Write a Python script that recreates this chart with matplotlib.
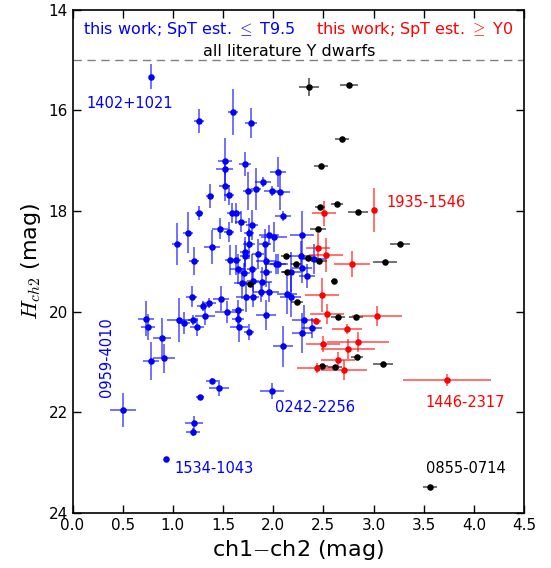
import matplotlib
matplotlib.use('Agg')
import matplotlib.pyplot as plt

plt.rcParams['mathtext.fontset'] = 'cm'

# this work, SpT <= T9.5 (blue)
blue_x = [0.783, 1.264, 1.603, 1.780, 1.523, 1.515, 1.515, 1.555, 1.366, 1.723,
          2.044, 1.896, 1.752, 1.830, 1.989, 2.071, 1.256, 1.587, 1.627, 2.099,
          1.147, 1.037, 1.468, 1.558, 1.683, 1.787, 1.762, 1.961, 2.004, 1.386,
          1.760, 1.922, 2.290, 1.211, 1.570, 1.625, 1.715, 1.720, 1.844, 1.924,
          2.026, 2.046, 2.276, 2.411, 2.283, 2.181, 2.335, 1.653, 1.710, 1.792,
          1.929, 1.687, 1.795, 1.892, 1.730, 1.796, 1.879, 1.954, 2.139, 2.173,
          1.481, 1.186, 1.358, 1.304, 1.318, 1.537, 1.650, 1.650, 1.660, 1.763,
          1.929, 1.059, 1.112, 1.204, 1.244, 0.730, 0.756, 0.889, 0.780, 0.912,
          0.506, 1.394, 1.461, 1.268, 1.214, 1.204, 0.935, 1.986, 2.096, 2.311,
          2.386, 2.288]
blue_y = [15.33, 16.21, 16.03, 16.26, 17.01, 17.17, 17.50, 17.68, 17.70, 17.07,
          17.23, 17.43, 17.60, 17.57, 17.60, 17.63, 18.05, 18.04, 18.05, 18.10,
          18.43, 18.66, 18.35, 18.42, 18.21, 18.28, 18.44, 18.47, 18.51, 18.71,
          18.65, 18.66, 18.47, 18.99, 18.98, 18.98, 18.82, 18.90, 18.85, 18.99,
          19.05, 19.05, 18.89, 18.95, 19.13, 19.21, 19.29, 19.16, 19.23, 19.15,
          19.21, 19.44, 19.39, 19.41, 19.70, 19.70, 19.61, 19.61, 19.64, 19.70,
          19.74, 19.70, 19.82, 19.89, 20.09, 20.00, 19.96, 20.14, 20.30, 20.41,
          20.06, 20.17, 20.23, 20.17, 20.31, 20.14, 20.30, 20.53, 20.98, 20.93,
          21.95, 21.38, 21.52, 21.69, 22.22, 22.39, 22.93, 21.58, 20.69, 20.17,
          20.32, 20.43]
blue_xerr = [0.02, 0.05, 0.05, 0.06, 0.07, 0.08, 0.05, 0.05, 0.04, 0.06,
             0.08, 0.08, 0.05, 0.05, 0.08, 0.10, 0.04, 0.05, 0.05, 0.08,
             0.05, 0.05, 0.08, 0.05, 0.06, 0.06, 0.05, 0.10, 0.13, 0.08,
             0.06, 0.06, 0.12, 0.05, 0.05, 0.05, 0.05, 0.05, 0.06, 0.10,
             0.12, 0.08, 0.12, 0.12, 0.10, 0.10, 0.08, 0.08, 0.06, 0.05,
             0.06, 0.08, 0.06, 0.10, 0.10, 0.06, 0.08, 0.10, 0.10, 0.10,
             0.08, 0.05, 0.07, 0.06, 0.10, 0.12, 0.06, 0.06, 0.09, 0.05,
             0.10, 0.12, 0.06, 0.05, 0.07, 0.08, 0.07, 0.09, 0.08, 0.11,
             0.13, 0.06, 0.10, 0.04, 0.09, 0.07, 0.02, 0.12, 0.10, 0.12,
             0.10, 0.10]
blue_yerr = [0.24, 0.24, 0.46, 0.30, 0.45, 0.10, 0.30, 0.20, 0.24, 0.24,
             0.30, 0.10, 0.38, 0.42, 0.10, 0.36, 0.14, 0.20, 0.20, 0.10,
             0.40, 0.42, 0.20, 0.20, 0.20, 0.30, 0.30, 0.20, 0.30, 0.34,
             0.30, 0.30, 0.46, 0.28, 0.30, 0.30, 0.30, 0.30, 0.30, 0.30,
             0.20, 0.20, 0.30, 0.30, 0.30, 0.40, 0.24, 0.30, 0.20, 0.30,
             0.30, 0.30, 0.20, 0.30, 0.30, 0.20, 0.20, 0.20, 0.40, 0.40,
             0.24, 0.20, 0.10, 0.10, 0.18, 0.22, 0.20, 0.20, 0.30, 0.16,
             0.30, 0.44, 0.22, 0.10, 0.18, 0.35, 0.26, 0.40, 0.38, 0.28,
             0.34, 0.06, 0.16, 0.04, 0.14, 0.08, 0.03, 0.16, 0.40, 0.30,
             0.20, 0.40]

# this work, SpT >= Y0 (red)
red_x = [3.003, 2.510, 2.451, 2.530, 2.784, 2.488, 2.534, 3.033, 2.423, 2.737,
         2.846, 2.495, 2.747, 2.649, 2.433, 2.704, 3.731]
red_y = [17.98, 18.05, 18.74, 18.88, 19.05, 19.67, 20.05, 20.09, 20.18, 20.34,
         20.60, 20.64, 20.74, 20.97, 21.12, 21.16, 21.36]
red_xerr = [0.01, 0.12, 0.12, 0.17, 0.18, 0.17, 0.17, 0.25, 0.05, 0.15,
            0.31, 0.17, 0.27, 0.17, 0.20, 0.23, 0.44]
red_yerr = [0.44, 0.24, 0.30, 0.34, 0.26, 0.34, 0.20, 0.20, 0.06, 0.10,
            0.20, 0.16, 0.20, 0.16, 0.10, 0.20, 0.12]

# all literature Y dwarfs (black)
lit_x = [2.358, 2.760, 2.690, 2.478, 2.463, 2.637, 2.841, 3.265, 2.445, 2.124,
         2.225, 2.345, 2.453, 3.111, 2.610, 2.241, 2.647, 2.826, 2.836, 3.093,
         2.488, 2.614, 1.765, 2.134, 3.567]
lit_y = [15.53, 15.50, 16.57, 17.11, 17.92, 17.87, 18.02, 18.65, 18.36, 18.89,
         19.05, 18.94, 19.00, 19.01, 19.40, 19.81, 20.10, 20.10, 20.91, 21.04,
         21.08, 21.09, 19.45, 19.22, 23.49]
lit_xerr = [0.10, 0.09, 0.07, 0.07, 0.05, 0.06, 0.10, 0.10, 0.08, 0.05,
            0.05, 0.05, 0.08, 0.12, 0.03, 0.06, 0.07, 0.07, 0.06, 0.10,
            0.06, 0.07, 0.04, 0.05, 0.07]
lit_yerr = [0.18, 0.04, 0.04, 0.03, 0.04, 0.04, 0.04, 0.04, 0.05, 0.04,
            0.04, 0.04, 0.05, 0.04, 0.03, 0.03, 0.03, 0.03, 0.03, 0.03,
            0.03, 0.03, 0.04, 0.04, 0.02]

# object names: (text, x, y, colour, rotation)
names = [("1402+1021", 0.135, 15.86, "blue", 0),
         ("0959-4010", 0.34, 20.9, "blue", 90),
         ("1534-1043", 1.02, 23.11, "blue", 0),
         ("0242-2256", 2.02, 21.91, "blue", 0),
         ("1935-1546", 3.13, 17.84, "red", 0),
         ("1446-2317", 3.52, 21.80, "red", 0),
         ("0855-0714", 3.52, 23.11, "black", 0)]

fig = plt.figure(figsize=(5.51, 5.68), dpi=100)
ax = fig.add_axes([0.1316, 0.0968, 0.8194, 0.8864])

ax.axhline(15.0, color="gray", linestyle="--", linewidth=1.0, dashes=(6, 4))

ax.errorbar(blue_x, blue_y, xerr=blue_xerr, yerr=blue_yerr, fmt="none",
            ecolor="blue", alpha=0.6, elinewidth=1.3, capsize=0)
ax.errorbar(lit_x, lit_y, xerr=lit_xerr, yerr=lit_yerr, fmt="none",
            ecolor="black", alpha=0.6, elinewidth=1.3, capsize=0)
ax.errorbar(red_x, red_y, xerr=red_xerr, yerr=red_yerr, fmt="none",
            ecolor="red", alpha=0.6, elinewidth=1.3, capsize=0)
ax.plot(blue_x, blue_y, "o", color="blue", ms=4.7, mew=0)
ax.plot(lit_x, lit_y, "o", color="black", ms=4.7, mew=0)
ax.plot(red_x, red_y, "o", color="red", ms=4.7, mew=0)

for txt, tx, ty, col, rot in names:
    ax.text(tx, ty, txt, color=col, fontsize=10.5, rotation=rot,
            ha="center" if rot else "left", va="center")

ax.text(0.105, 14.39, r"this work; SpT est. $\leq$ T9.5", color="blue",
        fontsize=11.5, ha="left", va="center")
ax.text(4.39, 14.39, r"this work; SpT est. $\geq$ Y0", color="red",
        fontsize=11.5, ha="right", va="center")
ax.text(2.164, 14.84, "all literature Y dwarfs", color="black",
        fontsize=11.5, ha="center", va="center")

ax.set_xlim(0, 4.5)
ax.set_ylim(24, 14)
ax.set_xticks([0.0, 0.5, 1.0, 1.5, 2.0, 2.5, 3.0, 3.5, 4.0, 4.5])
ax.set_yticks([14, 16, 18, 20, 22, 24])
ax.tick_params(direction="in", top=True, right=True, length=6, width=1,
               labelsize=11)
for s in ax.spines.values():
    s.set_linewidth(1.2)

ax.set_xlabel("ch1$-$ch2 (mag)", fontsize=16)
ax.set_ylabel("$H_{ch2}$ (mag)", fontsize=16)

plt.savefig("out.png", dpi=100)
